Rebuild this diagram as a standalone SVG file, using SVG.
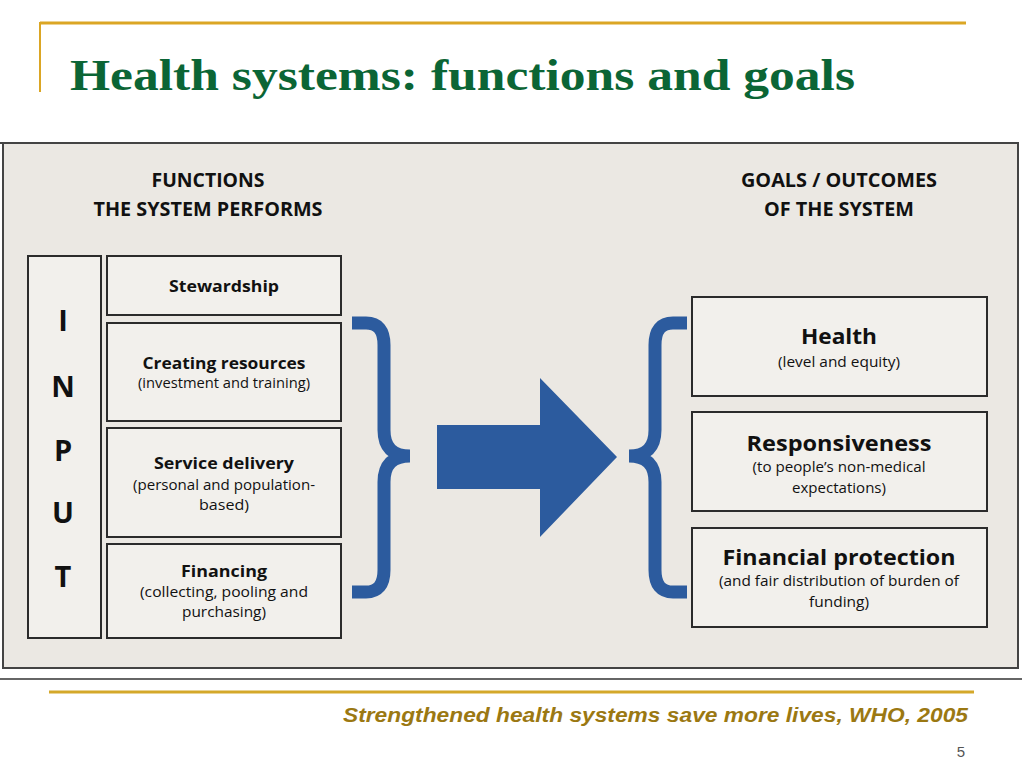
<svg xmlns="http://www.w3.org/2000/svg" width="1024" height="767" viewBox="0 0 1024 767">
<style>
.box{fill:#f2f0ec;stroke:#2b2b2b;stroke-width:2}
.hd{font-family:"Open Sans","Liberation Sans",sans-serif;font-weight:700;font-size:19px;fill:#111;text-anchor:middle}
.b{font-family:"Open Sans","Liberation Sans",sans-serif;font-weight:700;fill:#111;text-anchor:middle}
.s{font-family:"Open Sans","Liberation Sans",sans-serif;font-weight:400;font-size:14px;fill:#111;text-anchor:middle}
.inp{font-family:"Open Sans","Liberation Sans",sans-serif;font-weight:700;font-size:29px;fill:#111;text-anchor:middle}
.brace{fill:none;stroke:#2c5b9e;stroke-width:13;stroke-linejoin:miter}
</style>
<rect width="1024" height="767" fill="#ffffff"/>
<g id="title">
<line x1="40" y1="23" x2="966" y2="23" stroke="#dba624" stroke-width="3"/>
<line x1="40" y1="22" x2="40" y2="92" stroke="#dba624" stroke-width="2"/>
<text x="70" y="90" font-family="Liberation Serif,serif" font-weight="700" font-size="44" fill="#0b6535" textLength="785" lengthAdjust="spacingAndGlyphs">Health systems: functions and goals</text>
</g>
<g id="panel">
<line x1="0" y1="143" x2="1019" y2="143" stroke="#444" stroke-width="2"/>
<rect x="3" y="143" width="1015" height="525" fill="#ebe8e3" stroke="#444" stroke-width="2"/>
<line x1="0" y1="679" x2="1022" y2="679" stroke="#333" stroke-width="1.5"/>
<text class="hd" x="208" y="187" textLength="113" lengthAdjust="spacingAndGlyphs">FUNCTIONS</text>
<text class="hd" x="208" y="216" textLength="229" lengthAdjust="spacingAndGlyphs">THE SYSTEM PERFORMS</text>
<text class="hd" x="839" y="187" textLength="196" lengthAdjust="spacingAndGlyphs">GOALS / OUTCOMES</text>
<text class="hd" x="839" y="216" textLength="150" lengthAdjust="spacingAndGlyphs">OF THE SYSTEM</text>
</g>
<g id="input">
<rect class="box" x="28" y="256" width="73" height="382"/>
<text class="inp" x="63" y="331">I</text>
<text class="inp" x="63" y="397">N</text>
<text class="inp" x="63" y="461">P</text>
<text class="inp" x="63" y="523">U</text>
<text class="inp" x="63" y="587">T</text>
</g>
<g id="stewardship">
<rect class="box" x="107" y="256" width="234" height="59"/>
<text class="b" x="224" y="292" font-size="16" textLength="110" lengthAdjust="spacingAndGlyphs">Stewardship</text>
</g>
<g id="creating">
<rect class="box" x="107" y="323" width="234" height="98"/>
<text class="b" x="224" y="369" font-size="16" textLength="163" lengthAdjust="spacingAndGlyphs">Creating resources</text>
<text class="s" x="224" y="388" textLength="172" lengthAdjust="spacingAndGlyphs">(investment and training)</text>
</g>
<g id="service">
<rect class="box" x="107" y="428" width="234" height="109"/>
<text class="b" x="224" y="469" font-size="16" textLength="140" lengthAdjust="spacingAndGlyphs">Service delivery</text>
<text class="s" x="224" y="490" textLength="182" lengthAdjust="spacingAndGlyphs">(personal and population-</text>
<text class="s" x="224" y="510" textLength="50" lengthAdjust="spacingAndGlyphs">based)</text>
</g>
<g id="financing">
<rect class="box" x="107" y="544" width="234" height="94"/>
<text class="b" x="224" y="577" font-size="16" textLength="86" lengthAdjust="spacingAndGlyphs">Financing</text>
<text class="s" x="224" y="597" textLength="168" lengthAdjust="spacingAndGlyphs">(collecting, pooling and</text>
<text class="s" x="224" y="617" textLength="84" lengthAdjust="spacingAndGlyphs">purchasing)</text>
</g>
<g id="health">
<rect class="box" x="692" y="297" width="295" height="99"/>
<text class="b" x="839" y="344" font-size="21" textLength="76" lengthAdjust="spacingAndGlyphs">Health</text>
<text class="s" x="839" y="367" textLength="122" lengthAdjust="spacingAndGlyphs">(level and equity)</text>
</g>
<g id="responsiveness">
<rect class="box" x="692" y="412" width="295" height="99"/>
<text class="b" x="839" y="451" font-size="21" textLength="185" lengthAdjust="spacingAndGlyphs">Responsiveness</text>
<text class="s" x="839" y="472" textLength="173" lengthAdjust="spacingAndGlyphs">(to people’s non-medical</text>
<text class="s" x="839" y="493" textLength="94" lengthAdjust="spacingAndGlyphs">expectations)</text>
</g>
<g id="financial">
<rect class="box" x="692" y="528" width="295" height="99"/>
<text class="b" x="839" y="565" font-size="21" textLength="233" lengthAdjust="spacingAndGlyphs">Financial protection</text>
<text class="s" x="839" y="586" textLength="240" lengthAdjust="spacingAndGlyphs">(and fair distribution of burden of</text>
<text class="s" x="839" y="607" textLength="60" lengthAdjust="spacingAndGlyphs">funding)</text>
</g>
<g id="connectors">
<path class="brace" d="M352,323 L366,323 Q384,323 384,345 L384,430 Q384,456 410,456 Q384,456 384,482 L384,570 Q384,592 366,592 L352,592"/>
<path class="brace" d="M687,323 L673,323 Q655,323 655,345 L655,430 Q655,456 629,456 Q655,456 655,482 L655,570 Q655,592 673,592 L687,592"/>
<polygon points="437,425 540,425 540,378 617,457 540,537 540,489 437,489" fill="#2c5b9e"/>
</g>
<g id="footer">
<line x1="49" y1="692" x2="974" y2="692" stroke="#d4a82a" stroke-width="3"/>
<text x="968" y="722" text-anchor="end" font-family="Liberation Sans,Arial,sans-serif" font-weight="700" font-style="italic" font-size="20" fill="#9b7812" textLength="625" lengthAdjust="spacingAndGlyphs">Strengthened health systems save more lives, WHO, 2005</text>
<text x="965" y="757" text-anchor="end" font-family="Liberation Sans,Arial,sans-serif" font-size="15" fill="#555">5</text>
</g>
</svg>
